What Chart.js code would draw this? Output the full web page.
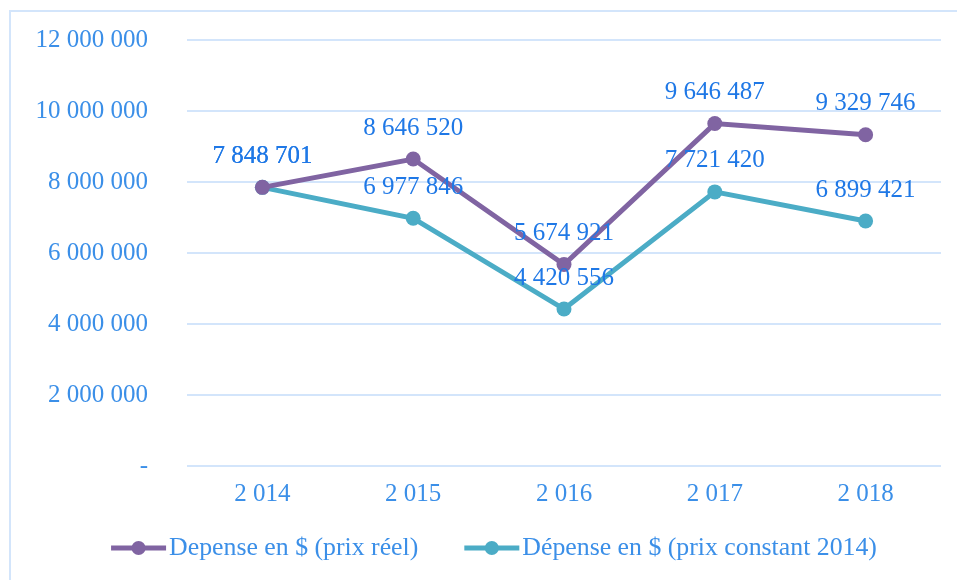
<!DOCTYPE html>
<html>
<head>
<meta charset="utf-8">
<script src="https://cdn.jsdelivr.net/npm/chart.js@4/dist/chart.umd.min.js"></script>
<style>
  body { margin: 0; background: #fff; overflow: hidden; }
  #wrap { position: relative; width: 957px; height: 580px; }
  #frame { position: absolute; left: 9px; top: 10px; width: 980px; height: 600px; border: 2px solid #d3e5fb; }
  #chart { position: absolute; left: 0; top: 0; }
</style>
</head>
<body>
<div id="wrap">
  <div id="frame"></div>
  <canvas id="chart" width="957" height="580"></canvas>
</div>
<script>
// data
const years = [2014, 2015, 2016, 2017, 2018];
const depenseReel = [7848701, 8646520, 5674921, 9646487, 9329746];
const depenseConstant = [7848701, 6977846, 4420556, 7721420, 6899421];
const yTicks = [0, 2000000, 4000000, 6000000, 8000000, 10000000, 12000000];
const seriesNames = ["Depense en $ (prix réel)", "Dépense en $ (prix constant 2014)"];

const purple = "#8064a2";
const teal = "#4bacc6";
const tickColor = "#3b8fe8";
const labelColor = "#1f78e6";
const gridColor = "#d3e5fb";
const fontFamily = "'Liberation Serif', 'DejaVu Serif', serif";

function fmt(v) {
  return String(v).replace(/\B(?=(\d{3})+(?!\d))/g, " ");
}

// numbers above each point
const valueLabels = {
  id: "valueLabels",
  afterDatasetsDraw(chart) {
    const ctx = chart.ctx;
    ctx.save();
    ctx.font = "25px " + fontFamily;
    ctx.fillStyle = labelColor;
    ctx.textAlign = "center";
    ctx.textBaseline = "middle";
    chart.data.datasets.forEach((ds, i) => {
      chart.getDatasetMeta(i).data.forEach((pt, j) => {
        ctx.fillText(fmt(ds.data[j]), pt.x, pt.y - 31);
      });
    });
    ctx.restore();
  }
};

// Excel-like legend: line with a dot, then the name
const lineLegend = {
  id: "lineLegend",
  afterDraw(chart) {
    const ctx = chart.ctx;
    const lineLen = 55, gapText = 3, gapItem = 46, y = 548;
    ctx.save();
    ctx.font = "25.8px " + fontFamily;
    ctx.textBaseline = "middle";
    const ds = chart.data.datasets;
    let total = 0;
    ds.forEach((d, i) => {
      total += lineLen + gapText + ctx.measureText(d.label).width;
      if (i < ds.length - 1) total += gapItem;
    });
    let x = 494 - total / 2;
    ds.forEach((d) => {
      ctx.strokeStyle = d.borderColor;
      ctx.lineWidth = 5;
      ctx.beginPath();
      ctx.moveTo(x, y);
      ctx.lineTo(x + lineLen, y);
      ctx.stroke();
      ctx.fillStyle = d.borderColor;
      ctx.beginPath();
      ctx.arc(x + lineLen / 2, y, 7, 0, Math.PI * 2);
      ctx.fill();
      x += lineLen + gapText;
      ctx.fillStyle = tickColor;
      ctx.fillText(d.label, x, y);
      x += ctx.measureText(d.label).width + gapItem;
    });
    ctx.restore();
  }
};

function series(label, data, color) {
  return {
    label: label,
    data: data,
    borderColor: color,
    backgroundColor: color,
    borderWidth: 5,
    pointRadius: 7.5,
    pointHoverRadius: 7.5,
    pointBorderWidth: 0,
    tension: 0
  };
}

new Chart(document.getElementById("chart"), {
  type: "line",
  data: {
    labels: years,
    datasets: [
      series(seriesNames[0], depenseReel, purple),
      series(seriesNames[1], depenseConstant, teal)
    ]
  },
  options: {
    responsive: false,
    animation: false,
    layout: { padding: { left: 0, top: 40, right: 16, bottom: 66 } },
    scales: {
      x: {
        offset: true,
        grid: { display: false },
        border: { display: false },
        ticks: {
          color: tickColor,
          font: { family: fontFamily, size: 25 },
          padding: 5,
          callback: function (v, i) { return fmt(years[i]); }
        }
      },
      y: {
        min: 0,
        max: 12000000,
        afterBuildTicks: function (scale) {
          scale.ticks = yTicks.map((v) => ({ value: v }));
        },
        afterFit: function (scale) {
          scale.width = 187;
          // the big tick padding should not push the plot down
          scale.paddingTop = 0;
          scale.paddingBottom = 0;
        },
        grid: { color: gridColor, lineWidth: 2, drawTicks: false },
        border: { display: false },
        ticks: {
          color: tickColor,
          font: { family: fontFamily, size: 25 },
          padding: 39,
          callback: function (v) { return v === 0 ? "-" : fmt(v); }
        }
      }
    },
    plugins: {
      tooltip: { enabled: false },
      legend: { display: false }
    }
  },
  plugins: [valueLabels, lineLegend]
});
</script>
</body>
</html>
